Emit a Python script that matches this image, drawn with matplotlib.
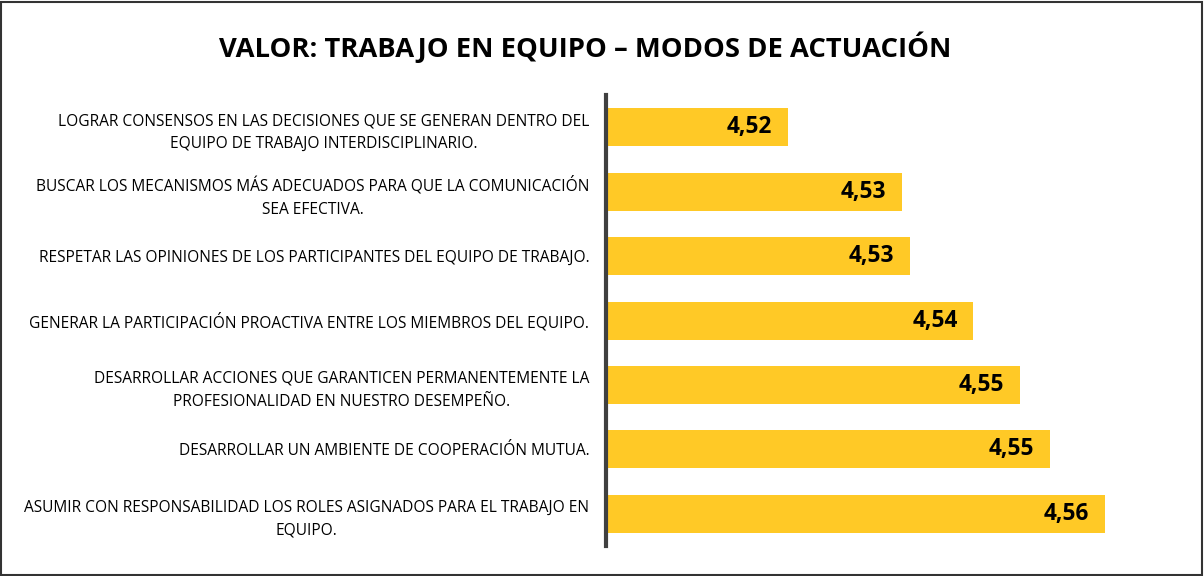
import matplotlib.pyplot as plt
from matplotlib.patches import Rectangle

plt.rcParams['font.family'] = ['Open Sans', 'DejaVu Sans']

# data, top bar first
categorias = [
    'LOGRAR CONSENSOS EN LAS DECISIONES QUE SE GENERAN DENTRO DEL\nEQUIPO DE TRABAJO INTERDISCIPLINARIO.',
    'BUSCAR LOS MECANISMOS MÁS ADECUADOS PARA QUE LA COMUNICACIÓN\nSEA EFECTIVA.',
    'RESPETAR LAS OPINIONES DE LOS PARTICIPANTES DEL EQUIPO DE TRABAJO.',
    'GENERAR LA PARTICIPACIÓN PROACTIVA ENTRE LOS MIEMBROS DEL EQUIPO.',
    'DESARROLLAR ACCIONES QUE GARANTICEN PERMANENTEMENTE LA\nPROFESIONALIDAD EN NUESTRO DESEMPEÑO.',
    'DESARROLLAR UN AMBIENTE DE COOPERACIÓN MUTUA.',
    'ASUMIR CON RESPONSABILIDAD LOS ROLES ASIGNADOS PARA EL TRABAJO EN\nEQUIPO.',
]
valores = [4.5206, 4.5334, 4.5343, 4.5415, 4.5468, 4.5501, 4.5563]
titulo = 'VALOR: TRABAJO EN EQUIPO – MODOS DE ACTUACIÓN'

fig = plt.figure(figsize=(12.04, 5.76), dpi=100)
ax = fig.add_axes([0.5033, 0.052, 0.4685, 0.783])

pos = range(len(categorias))
ax.barh(pos, valores, height=0.59, left=0, color='#FFC926')
ax.set_xlim(4.5, 4.5637)
ax.set_ylim(-0.5, len(categorias) - 0.5)
ax.invert_yaxis()

for i, v in enumerate(valores):
    ax.text(v - 0.0018, i, f'{v:.2f}'.replace('.', ','), ha='right', va='center',
            fontsize=16.3, fontweight='bold', color='black')

ax.set_yticks(list(pos))
ax.set_yticklabels(categorias, fontsize=11.2, linespacing=1.55)
for lbl in ax.get_yticklabels():
    lbl.set_multialignment('center')
ax.tick_params(axis='y', length=0, pad=12)
ax.set_xticks([])

for s in ['top', 'right', 'bottom']:
    ax.spines[s].set_visible(False)
ax.spines['left'].set_color('#404040')
ax.spines['left'].set_linewidth(3)

fig.text(0.486, 0.918, titulo, ha='center', va='center', fontsize=19.7, fontweight='bold')

fig.patches.append(Rectangle((0.001, 0.002), 0.997, 0.995, transform=fig.transFigure,
                             fill=False, edgecolor='#333333', linewidth=1.5))

fig.savefig('out.png', dpi=100)
